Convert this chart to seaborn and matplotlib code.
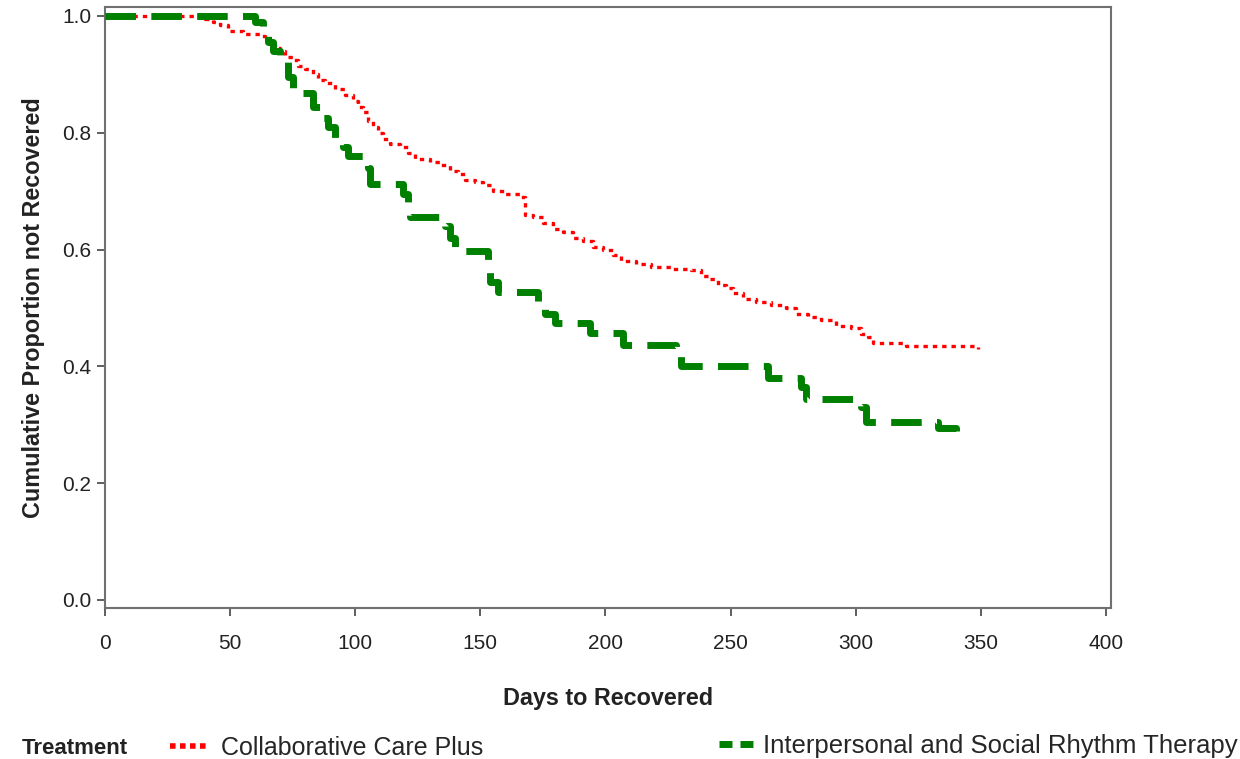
import pandas as pd
import matplotlib.pyplot as plt
import seaborn as sns
from matplotlib.lines import Line2D

# --- data (Kaplan-Meier style step curves) ---
ccp_days = [0, 40, 43, 46, 49, 55, 62, 64, 66, 68, 70, 72, 75, 77, 80, 83, 85, 88,
            92, 96, 99, 101, 103, 105, 107, 109, 111, 114, 118, 121, 124, 130, 134,
            138, 141, 144, 148, 151, 155, 160, 166, 168, 171, 175, 179, 183, 187,
            191, 195, 199, 203, 206, 212, 218, 226, 234, 238, 241, 245, 248, 251,
            255, 260, 266, 272, 276, 281, 286, 292, 298, 302, 305, 307, 320, 349]
ccp_surv = [1.0, 0.995, 0.99, 0.985, 0.975, 0.97, 0.965, 0.96, 0.95, 0.945, 0.94,
            0.93, 0.925, 0.915, 0.91, 0.90, 0.89, 0.885, 0.875, 0.865, 0.855, 0.845,
            0.835, 0.82, 0.81, 0.80, 0.79, 0.78, 0.775, 0.765, 0.755, 0.75, 0.745,
            0.735, 0.73, 0.72, 0.715, 0.71, 0.70, 0.695, 0.69, 0.66, 0.655, 0.645,
            0.635, 0.63, 0.62, 0.615, 0.605, 0.60, 0.59, 0.58, 0.575, 0.57, 0.567,
            0.565, 0.555, 0.55, 0.54, 0.535, 0.525, 0.515, 0.51, 0.505, 0.50, 0.49,
            0.485, 0.48, 0.47, 0.465, 0.455, 0.45, 0.44, 0.435, 0.43]

ipsrt_days = [0, 60, 63, 65, 67, 70, 73, 75, 83, 86, 89, 92, 95, 97, 105, 106, 119,
              121, 122, 136, 138, 140, 144, 153, 154, 157, 173, 176, 180, 194, 207,
              228, 230, 265, 278, 280, 302, 304, 333, 340]
ipsrt_surv = [1.0, 0.99, 0.975, 0.955, 0.94, 0.925, 0.895, 0.868, 0.845, 0.825,
              0.81, 0.79, 0.775, 0.76, 0.74, 0.712, 0.695, 0.675, 0.655, 0.64, 0.62,
              0.605, 0.598, 0.57, 0.545, 0.528, 0.51, 0.49, 0.475, 0.458, 0.437,
              0.42, 0.40, 0.38, 0.365, 0.345, 0.33, 0.304, 0.295, 0.29]

x_ticks = [0, 50, 100, 150, 200, 250, 300, 350, 400]
y_ticks = [0.0, 0.2, 0.4, 0.6, 0.8, 1.0]

ccp_df = pd.DataFrame({'day': ccp_days, 'surv': ccp_surv})
ipsrt_df = pd.DataFrame({'day': ipsrt_days, 'surv': ipsrt_surv})

sns.set_style('white')
plt.rcParams['font.family'] = ['Liberation Sans', 'DejaVu Sans']

fig = plt.figure(figsize=(12.4, 7.59), dpi=100)
ax = fig.add_axes([105 / 1240, 1 - 608 / 759, (1111 - 105) / 1240, (608 - 7) / 759])

red = '#ff0000'
green = '#008000'

sns.lineplot(data=ccp_df, x='day', y='surv', ax=ax, estimator=None, sort=False,
             drawstyle='steps-post', color=red, linewidth=2.4,
             dashes=False, linestyle=(0, (1.3, 1.5)), zorder=2)
sns.lineplot(data=ipsrt_df, x='day', y='surv', ax=ax, estimator=None, sort=False,
             drawstyle='steps-post', color=green, linewidth=5,
             dashes=False, linestyle=(0, (4.4, 2.2)), zorder=3)

ax.set_xlim(0, 402)
ax.set_ylim(-0.0137, 1.0154)
ax.set_xticks(x_ticks)
ax.set_yticks(y_ticks)
ax.set_yticklabels([f'{v:.1f}' for v in y_ticks])
ax.tick_params(axis='both', direction='out', length=6, width=1.2, color='#444444',
               labelsize=15, labelcolor='#222222', bottom=True, left=True)
ax.tick_params(axis='x', pad=13)
ax.tick_params(axis='y', pad=4)
for s in ax.spines.values():
    s.set_color('#707070')
    s.set_linewidth(1.5)

ax.set_xlabel('Days to Recovered', fontsize=16.8, fontweight='bold', color='#222222',
              labelpad=24)
ax.set_ylabel('Cumulative Proportion not Recovered', fontsize=16.8, fontweight='bold',
              color='#222222', labelpad=12)

# legend row at the bottom
fig.text(22 / 1240, 1 - 748 / 759, 'Treatment', fontsize=16, fontweight='bold',
         color='#222222', va='center', ha='left')
h_red = Line2D([], [], color=red, linewidth=4, linestyle=(0, (1, 0.8)))
h_green = Line2D([], [], color=green, linewidth=5, linestyle=(0, (1.87, 1.15)))
fig.legend(handles=[h_red], labels=['Collaborative Care Plus'], loc='center left',
           bbox_to_anchor=(170 / 1240, 1 - 748 / 759), frameon=False, fontsize=18,
           handlelength=1.45, handletextpad=0.6, borderpad=0, borderaxespad=0)
fig.legend(handles=[h_green], labels=['Interpersonal and Social Rhythm Therapy'],
           loc='center left', bbox_to_anchor=(719 / 1240, 1 - 746 / 759),
           frameon=False, fontsize=18.5, handlelength=1.4, handletextpad=0.3,
           borderpad=0, borderaxespad=0)

fig.savefig('out.png', dpi=100)
